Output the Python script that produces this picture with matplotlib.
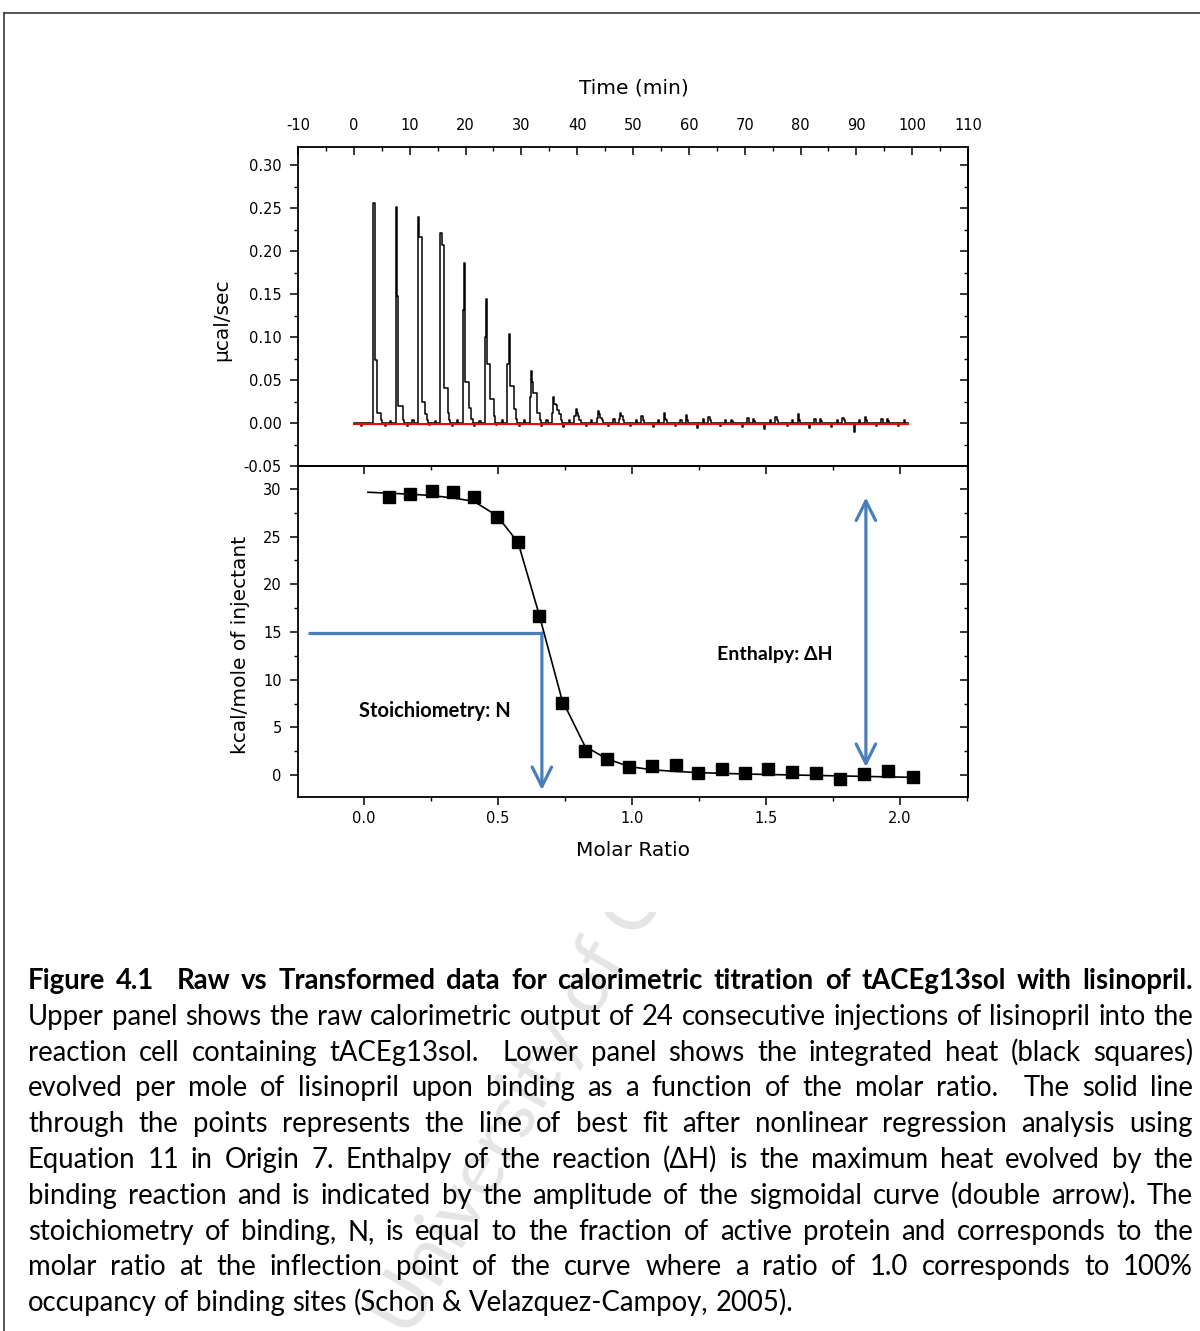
"""ITC thermogram + binding isotherm figure with caption (tACEg13sol / lisinopril)."""
import numpy as np
import matplotlib
matplotlib.use("Agg")
import matplotlib.pyplot as plt
from matplotlib.lines import Line2D
from matplotlib.ticker import MultipleLocator, FormatStrFormatter

plt.rcParams["axes.unicode_minus"] = False

W, H = 1200, 1331
BLUE = "#4a7ebb"
CAP_FONT = ["Lato", "DejaVu Sans"]

# ---------------- raw thermogram (upper panel) ----------------
inj_time = [3.5, 7.5, 11.5, 15.5, 19.5, 23.5, 27.5, 31.5, 35.5, 39.5, 43.5, 47.5,
            51.5, 55.5, 59.5, 63.5, 67.5, 71.5, 75.5, 79.5, 83.5, 87.5, 91.5, 95.5]
# heat-rate samples (µcal/sec) following each injection
inj_profile = [
    [0.256, 0.073, 0.073, 0.012, 0.012, 0.012, 0.003],
    [0.251, 0.148, 0.020, 0.020, 0.020, 0.020, 0.004],
    [0.240, 0.216, 0.216, 0.024, 0.024, 0.024, 0.010, 0.003],
    [0.221, 0.207, 0.207, 0.041, 0.041, 0.041, 0.012, 0.004],
    [0.132, 0.186, 0.048, 0.048, 0.048, 0.018, 0.018, 0.005],
    [0.100, 0.144, 0.069, 0.069, 0.028, 0.028, 0.028, 0.008],
    [0.069, 0.103, 0.043, 0.043, 0.043, 0.016, 0.016, 0.005],
    [0.030, 0.060, 0.048, 0.035, 0.035, 0.035, 0.012, 0.012, 0.004],
    [0.012, 0.030, 0.022, 0.021, 0.015, 0.015, 0.010, 0.004],
    [0.008, 0.016, 0.012, 0.008, 0.004],
    [0.006, 0.014, 0.010, 0.006, 0.003],
    [0.005, 0.012, 0.008, 0.004],
    [0.008, 0.004],
    [0.012, 0.005, 0.003],
    [0.009, 0.004],
    [0.007, 0.003],
    [0.004, 0.002],
    [0.005, 0.002],
    [0.007, 0.003],
    [0.010, 0.004],
    [0.005, 0.002],
    [0.006, 0.003],
    [0.007, 0.003],
    [0.005, 0.002],
]
baseline_dip = [-0.003, -0.004, -0.002, -0.003, -0.004, -0.002, -0.004, -0.003,
                -0.005, -0.003, -0.004, -0.003, -0.005, -0.004, -0.006, -0.003,
                -0.005, -0.007, -0.004, -0.006, -0.005, -0.010, -0.004, -0.003]
baseline_blip = [0.002, 0.003, 0.002, 0.003, 0.002, 0.004, 0.003, 0.004,
                 0.003, 0.004, 0.005, 0.003, 0.004, 0.003, 0.005, 0.004,
                 0.006, 0.003, 0.004, 0.005, 0.003, 0.004, 0.005, 0.003]
run_end = 99.3
sample_dt = 0.22

# ---------------- integrated heats (lower panel) ----------------
molar_ratio = [0.093, 0.172, 0.254, 0.332, 0.410, 0.496, 0.575, 0.653, 0.739, 0.825,
               0.907, 0.989, 1.075, 1.164, 1.246, 1.336, 1.422, 1.507, 1.597, 1.687,
               1.776, 1.866, 1.955, 2.049]
heat = [29.2, 29.5, 29.8, 29.7, 29.1, 27.1, 24.4, 16.7, 7.55, 2.5,
        1.7, 0.85, 0.95, 1.05, 0.2, 0.65, 0.2, 0.65, 0.3, 0.2,
        -0.4, 0.1, 0.4, -0.2]
fit_ratio = [0.015, 0.093, 0.172, 0.254, 0.332, 0.410, 0.496, 0.575, 0.653, 0.739,
             0.825, 0.907, 0.989, 1.075, 1.164, 1.246, 1.336, 1.422, 1.507, 1.597,
             1.687, 1.776, 1.866, 1.955, 2.049]
fit_heat = [29.65, 29.55, 29.45, 29.3, 29.05, 28.7, 27.2, 24.4, 16.9, 7.9,
            3.0, 1.7, 0.9, 0.55, 0.38, 0.26, 0.18, 0.11, 0.06, 0.01,
            -0.04, -0.09, -0.14, -0.19, -0.24]

n_point = (0.664, 14.9)              # inflection / stoichiometry
dh_arrow = (1.873, 0.84, 29.1)       # x, y_low, y_high

caption = [
    "Figure 4.1  Raw vs Transformed data for calorimetric titration of tACEg13sol with lisinopril.",
    "Upper panel shows the raw calorimetric output of 24 consecutive injections of lisinopril into the",
    "reaction cell containing tACEg13sol.  Lower panel shows the integrated heat (black squares)",
    "evolved per mole of lisinopril upon binding as a function of the molar ratio.  The solid line",
    "through the points represents the line of best fit after nonlinear regression analysis using",
    "Equation 11 in Origin 7. Enthalpy of the reaction (\u0394H) is the maximum heat evolved by the",
    "binding reaction and is indicated by the amplitude of the sigmoidal curve (double arrow). The",
    "stoichiometry of binding, N, is equal to the fraction of active protein and corresponds to the",
    "molar ratio at the inflection point of the curve where a ratio of 1.0 corresponds to 100%",
    "occupancy of binding sites (Schon & Velazquez-Campoy, 2005).",
]


def px(x, y):
    return x / W, 1 - y / H


def style_ticks(axis, direction, major=5.8, minor=3.0, **kw):
    axis.set_tick_params(which="major", direction=direction, length=major, width=1.1, **kw)
    axis.set_tick_params(which="minor", direction=direction, length=minor, width=1.0, **kw)


fig = plt.figure(figsize=(W / 100, H / 100), dpi=100)

# ---------- upper panel ----------
ax1 = fig.add_axes([298 / W, 1 - 466 / H, 670 / W, 319 / H])
t_pts, y_pts = [0.0, 1.2, 1.4], [0.0, -0.003, 0.0]
for t, prof, dip, blip in zip(inj_time, inj_profile, baseline_dip, baseline_blip):
    t_pts.append(t - sample_dt); y_pts.append(0.0)
    for k, v in enumerate(prof):
        t_pts.append(t + k * sample_dt); y_pts.append(v)
    t_pts.append(t + len(prof) * sample_dt); y_pts.append(0.0)
    t_pts += [t + 2.0, t + 2.0 + sample_dt, t + 3.0, t + 3.0 + sample_dt]
    y_pts += [dip, 0.0, blip, 0.0]
t_pts.append(run_end); y_pts.append(0.0)
ax1.plot(t_pts, y_pts, color="black", lw=1.1, drawstyle="steps-post")
ax1.plot([0, run_end], [-0.001, -0.001], color="red", lw=1.5)
ax1.set_xlim(-10, 110)
ax1.set_ylim(-0.05, 0.321)
ax1.xaxis.set_ticks_position("top")
ax1.xaxis.set_major_locator(MultipleLocator(10))
ax1.xaxis.set_minor_locator(MultipleLocator(5))
ax1.yaxis.set_major_locator(MultipleLocator(0.05))
ax1.yaxis.set_minor_locator(MultipleLocator(0.025))
ax1.yaxis.set_major_formatter(FormatStrFormatter("%.2f"))
style_ticks(ax1.xaxis, "in", pad=10, labelsize=10.5)
style_ticks(ax1.yaxis, "out", pad=6, labelsize=10.5)
r1 = ax1.secondary_yaxis("right")
r1.yaxis.set_major_locator(MultipleLocator(0.05))
r1.yaxis.set_minor_locator(MultipleLocator(0.025))
style_ticks(r1.yaxis, "in", labelright=False)

# ---------- lower panel ----------
ax2 = fig.add_axes([298 / W, 1 - 797 / H, 670 / W, 331 / H])
ax2.plot(fit_ratio, fit_heat, color="black", lw=1.2, zorder=3)
ax2.plot(molar_ratio, heat, "s", color="black", ms=8, zorder=4)
ax2.set_xlim(-0.246, 2.254)
ax2.set_ylim(-2.3, 32.4)
ax2.xaxis.set_major_locator(MultipleLocator(0.5))
ax2.xaxis.set_minor_locator(MultipleLocator(0.25))
ax2.xaxis.set_major_formatter(FormatStrFormatter("%.1f"))
ax2.yaxis.set_major_locator(MultipleLocator(5))
ax2.yaxis.set_minor_locator(MultipleLocator(2.5))
style_ticks(ax2.xaxis, "out", pad=4, labelsize=10.5)
style_ticks(ax2.yaxis, "out", pad=6, labelsize=10.5)
t2 = ax2.secondary_xaxis("top")
t2.xaxis.set_major_locator(MultipleLocator(0.5))
t2.xaxis.set_minor_locator(MultipleLocator(0.25))
style_ticks(t2.xaxis, "in", labeltop=False)
r2 = ax2.secondary_yaxis("right")
r2.yaxis.set_major_locator(MultipleLocator(5))
r2.yaxis.set_minor_locator(MultipleLocator(2.5))
style_ticks(r2.yaxis, "in", labelright=False)

for a in (ax1, ax2, r1, t2, r2):
    for s in a.spines.values():
        s.set_linewidth(1.3)

# annotations
ax2.plot([-0.209, n_point[0]], [n_point[1], n_point[1]], color=BLUE, lw=2.3,
         solid_capstyle="butt", zorder=2)
ax2.annotate("", xy=(n_point[0], -1.57), xytext=n_point,
             arrowprops=dict(arrowstyle="->,head_length=1.4,head_width=0.7",
                             color=BLUE, lw=2.3, shrinkA=0, shrinkB=0), zorder=2)
ax2.annotate("", xy=(dh_arrow[0], dh_arrow[1]), xytext=(dh_arrow[0], dh_arrow[2]),
             arrowprops=dict(arrowstyle="<->,head_length=1.4,head_width=0.7",
                             color=BLUE, lw=2.3, shrinkA=0, shrinkB=0), zorder=2)
ax2.text(0.265, 6.7, "Stoichiometry: N", ha="center", va="center",
         fontsize=14.5, fontweight="bold", family=CAP_FONT)
ax2.text(1.534, 12.6, "Enthalpy: \u0394H", ha="center", va="center",
         fontsize=14, fontweight="bold", family=CAP_FONT)

# axis titles
fig.text(*px(634, 88), "Time (min)", ha="center", va="center", fontsize=14.5)
fig.text(*px(633, 851), "Molar Ratio", ha="center", va="center", fontsize=14.5)
fig.text(*px(222, 320), "\u00b5cal/sec", ha="center", va="center", fontsize=14.5, rotation=90)
fig.text(*px(240, 645), "kcal/mole of injectant", ha="center", va="center",
         fontsize=14.5, rotation=90)

# page frame
fig.add_artist(Line2D([4 / W, 4 / W], [0, 1 - 13 / H], transform=fig.transFigure,
                      color="#3a3a3a", lw=1.2))
fig.add_artist(Line2D([4 / W, 1], [1 - 13 / H, 1 - 13 / H], transform=fig.transFigure,
                      color="#3a3a3a", lw=1.2))

# watermark (only visible below the chart image)
wax = fig.add_axes([0, 0, 1, 1 - 912 / H])
wax.axis("off")
wax.text(*px(410, 1340), "University of Cape Town", transform=fig.transFigure,
         rotation=60, rotation_mode="anchor", ha="left", va="baseline",
         fontsize=56, color="#e5e5e5", family=CAP_FONT, clip_on=True)

# ---------- justified caption ----------
renderer = fig.canvas.get_renderer()


def text_width(s, size, weight):
    if not s:
        return 0.0
    t = fig.text(0, 0, s, fontsize=size, fontweight=weight, family=CAP_FONT)
    w = t.get_window_extent(renderer).width
    t.remove()
    return w


left, right = 28, 1193
span = right - left
fs = min(10 * span / text_width(caption[1], 10, "normal"),
         10 * span / text_width(caption[0], 10, "bold")) * 0.995
for i, line in enumerate(caption):
    weight = "bold" if i == 0 else "normal"
    words = line.split(" ")
    widths = [text_width(w, fs, weight) for w in words]
    if i < len(caption) - 1:
        gap = (span - sum(widths)) / (len(words) - 1)
    else:
        gap = text_width("a a", fs, weight) - text_width("aa", fs, weight)
    x = left
    y = 989 + 35.8 * i
    for w, wd in zip(words, widths):
        if w:
            fig.text(*px(x, y), w, fontsize=fs, fontweight=weight, family=CAP_FONT,
                     ha="left", va="baseline")
        x += wd + gap

fig.savefig("out.png", dpi=100)
